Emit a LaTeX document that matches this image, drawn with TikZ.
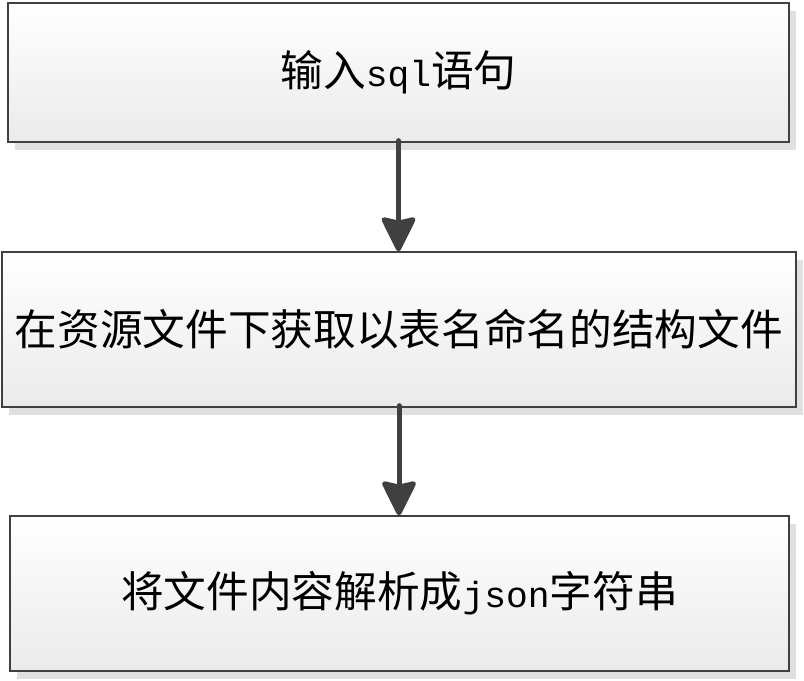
\documentclass[tikz,border=0pt]{standalone}
\usepackage{fontspec}
\setmainfont{Noto Sans CJK SC}
\newfontfamily\latinmono[Scale=0.85]{Liberation Mono}
\usepackage{tikz}
\usetikzlibrary{arrows.meta,shadows}

\tikzset{
	stepbox/.style={draw=black!75, line width=1pt, top color=white, bottom color=black!8,
		drop shadow={shadow xshift=5.25pt, shadow yshift=-6pt, fill=black!12, opacity=1},
		inner sep=0pt, font=\fontsize{32pt}{38pt}\selectfont},
	flowarrow/.style={draw=black!75, line width=3.75pt, line cap=round,
		-{Stealth[length=28.5pt, width=27.75pt, inset=3pt, round=false]}}
}

\begin{document}
\begin{tikzpicture}[x=0.75pt, y=-0.75pt]
		\useasboundingbox (0,0) rectangle (804,681);
		\node[stepbox, minimum width=585.75pt, minimum height=104.25pt] (input) at (398.5,72.5) {输入{\latinmono sql}语句};
		\node[stepbox, minimum width=595.5pt, minimum height=116.25pt] (fetch) at (399,329.5) {在资源文件下获取以表名命名的结构文件};
		\node[stepbox, minimum width=584.25pt, minimum height=116.25pt] (parse) at (399.5,593.5) {将文件内容解析成{\latinmono json}字符串};
		\draw[flowarrow] ([yshift=1.5pt]input.south) -- (input.south |- fetch.north);
		\draw[flowarrow] ([yshift=1.5pt]fetch.south) -- (fetch.south |- parse.north);
\end{tikzpicture}
\end{document}
